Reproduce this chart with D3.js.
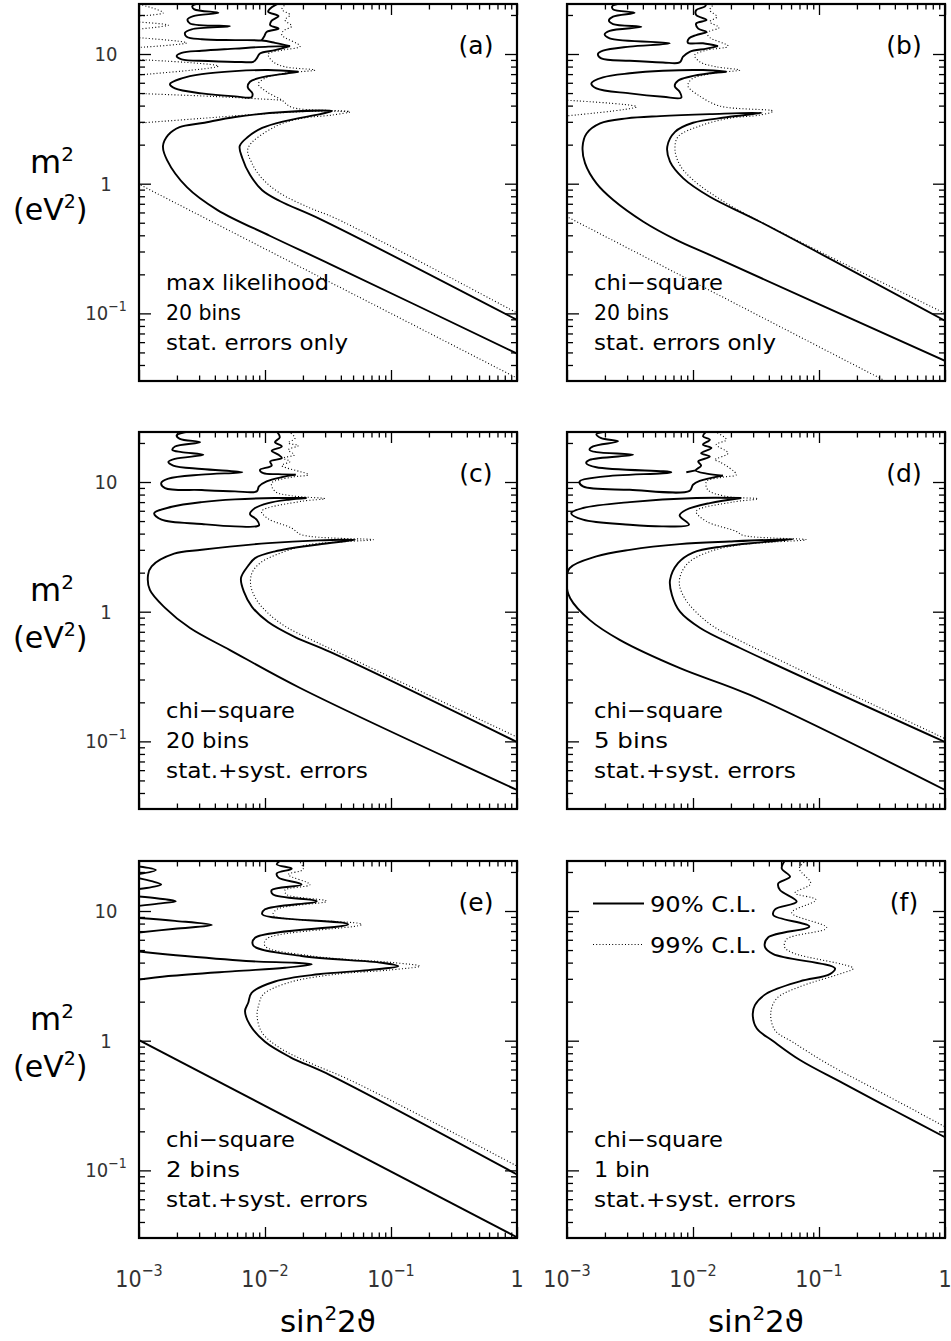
<!DOCTYPE html>
<html><head><meta charset="utf-8">
<script src="https://cdn.jsdelivr.net/npm/d3@7"></script>
<style>body{margin:0;background:#fff}svg{display:block}</style>
</head><body>
<svg id="chart" width="951" height="1341"></svg>
<script>
// ---------- axes ----------
const X_DOMAIN = [1e-3, 1];
const Y_DOMAIN = [0.0301, 24.3];
const xMajor = [1e-3, 1e-2, 1e-1, 1];
const xMinor = [0.002,0.003,0.004,0.005,0.006,0.007,0.008,0.009,0.02,0.03,0.04,0.05,0.06,0.07,0.08,0.09,0.2,0.3,0.4,0.5,0.6,0.7,0.8,0.9];
const yMajor = [0.1, 1, 10];
const yMinor = [0.04,0.05,0.06,0.07,0.08,0.09,0.2,0.3,0.4,0.5,0.6,0.7,0.8,0.9,2,3,4,5,6,7,8,9,20];
const xTickLabels = [["10","−3"],["10","−2"],["10","−1"],["1",""]];
const yTickLabels = [["10","−1"],["1",""],["10",""]];

// ---------- panel (a) ----------
const A_band = [[1,0.049],[0.0328,0.24],[0.011,0.395],[0.0042,0.626],[0.0024,0.94],[0.00167,1.52],[0.00155,1.95],[0.0017,2.37],[0.0021,2.73],[0.0032,2.94],[0.0058,3.27],[0.0144,3.57],[0.034,3.63],[0.0274,3.44],[0.0144,3.04],[0.0095,2.69],[0.0073,2.29],[0.0063,1.95],[0.0066,1.58],[0.0076,1.17],[0.0095,0.89],[0.0131,0.735],[0.0274,0.533],[1,0.089]];
const A_lobes = [[0.00296,24.6],[0.00265,23.4],[0.00275,22.1],[0.00427,20.8],[0.0027,19.6],[0.00243,18.5],[0.00254,17.2],[0.00527,16.4],[0.00262,15.5],[0.00232,14.6],[0.00239,13.6],[0.00315,13.0],[0.00578,12.8],[0.0094,12.7],[0.012,12.2],[0.0158,11.5]];
const A_wiggle = [[0.0094,12.7],[0.00987,13.7],[0.0103,14.8],[0.0128,15.7],[0.011,16.7],[0.0113,18.1],[0.0128,19.6],[0.0106,21.2],[0.0113,22.9],[0.0128,24.6]];
const A_isl1 = [[0.0158,11.5],[0.0106,11.4],[0.00578,11.0],[0.00315,10.6],[0.00218,10.2],[0.00199,9.64],[0.00218,9.08],[0.00355,8.83],[0.00653,8.67],[0.00807,8.71],[0.0086,9.25],[0.00912,10.1],[0.012,10.7],[0.0158,11.5]];
const A_isl2 = [[0.0184,7.3],[0.0106,7.52],[0.00578,7.38],[0.00315,7.0],[0.00218,6.49],[0.00176,5.86],[0.00193,5.43],[0.00315,4.97],[0.00578,4.71],[0.00783,4.65],[0.00795,4.97],[0.0073,5.52],[0.0076,6.11],[0.0094,6.6],[0.0136,7.0],[0.0184,7.3]];
const A_dLower = [[0.00098,1.0],[1,0.0317]];
const A_dRight = [[0.01486,24.6],[0.0136,22.1],[0.0158,20.0],[0.0144,18.3],[0.0163,16.4],[0.014,15.1],[0.0136,14.0],[0.019,11.5],[0.0136,10.7],[0.0106,10.0],[0.0116,8.71],[0.0144,7.97],[0.0249,7.52],[0.0144,7.1],[0.01,6.49],[0.00885,5.86],[0.0103,5.12],[0.0136,4.41],[0.0163,3.88],[0.0473,3.59],[0.0338,3.38],[0.0195,3.19],[0.012,2.75],[0.00733,1.88],[0.00788,1.44],[0.00947,1.10],[0.0131,0.847],[0.0228,0.649],[0.036,0.543],[1,0.1007]];
const A_dLobe1 = [[0.00095,24.6],[0.00156,20.8],[0.00095,19.6]];
const A_dLobe2 = [[0.00095,17.7],[0.00171,16.7],[0.00095,15.5]];
const A_dLobe3 = [[0.00095,13.4],[0.00239,12.2],[0.00095,11.2]];
const A_dLobe4 = [[0.00095,9.08],[0.00427,8.07],[0.00095,6.88]];
const A_dLobe5 = [[0.00095,4.97],[0.004,4.7],[0.0136,4.41]];
const A_dLobe6 = [[0.00095,2.92],[0.00315,3.19],[0.0106,3.48],[0.0282,3.63],[0.0473,3.59]];
const A_text = ["max likelihood","20 bins","stat. errors only"];

// ---------- panel (b) ----------
const B_band = [[1,0.043],[0.0136,0.282],[0.00743,0.367],[0.00404,0.509],[0.00233,0.748],[0.00172,1.0],[0.00139,1.44],[0.00133,1.93],[0.00143,2.44],[0.00183,2.92],[0.00298,3.19],[0.00547,3.32],[0.0136,3.44],[0.0351,3.52],[0.0185,3.25],[0.01,2.95],[0.0072,2.51],[0.00625,1.93],[0.00657,1.48],[0.00838,1.10],[0.0136,0.793],[0.034,0.509],[1,0.0877]];
const B_lobes = [[0.00275,24.6],[0.00229,23.4],[0.00232,22.1],[0.00344,20.8],[0.00232,19.4],[0.00215,18.1],[0.00232,17.0],[0.00389,16.2],[0.00218,15.1],[0.00199,14.2],[0.00218,13.2],[0.00653,12.1],[0.00315,11.4],[0.00193,10.6],[0.00176,10.0],[0.00187,9.25],[0.00315,8.87],[0.00578,8.61],[0.00783,8.61],[0.00834,9.53],[0.0094,10.4],[0.0128,11.0],[0.0158,11.5]];
const B_wiggle = [[0.0158,11.5],[0.012,12.1],[0.00912,12.2],[0.0093,13.2],[0.0106,14.0],[0.0128,14.8],[0.011,15.7],[0.0106,17.2],[0.0128,18.3],[0.0106,20.0],[0.0106,21.8],[0.0124,23.2],[0.0128,24.6]];
const B_isl = [[0.0184,7.3],[0.012,7.52],[0.00578,7.43],[0.00315,7.1],[0.00193,6.6],[0.00156,5.94],[0.00171,5.43],[0.00315,4.97],[0.00578,4.68],[0.00807,4.6],[0.00783,5.12],[0.00716,5.66],[0.0076,6.22],[0.0094,6.68],[0.0136,7.1],[0.0184,7.3]];
const B_dLower = [[0.00098,0.562],[0.35,0.0295]];
const B_dRight = [[0.01486,24.6],[0.0136,21.8],[0.0155,19.4],[0.0136,17.7],[0.0161,16.0],[0.0129,14.6],[0.0136,13.4],[0.019,11.5],[0.0128,10.7],[0.0103,9.8],[0.0113,8.71],[0.0153,7.97],[0.0235,7.52],[0.0144,7.1],[0.0097,6.37],[0.00912,5.66],[0.011,4.82],[0.0163,3.97],[0.0432,3.63],[0.0338,3.38],[0.0195,3.2],[0.0115,2.8],[0.0076,2.3],[0.0072,1.82],[0.00788,1.39],[0.01,1.07],[0.0185,0.705],[0.0462,0.439],[1,0.1]];
const B_dLobe = [[0.00095,4.41],[0.00357,3.92],[0.00095,3.32]];
const B_text = ["chi−square","20 bins","stat. errors only"];

// ---------- panel (c) ----------
const C_band = [[1,0.0422],[0.019,0.258],[0.00527,0.506],[0.00254,0.748],[0.00161,1.07],[0.00122,1.47],[0.00118,1.92],[0.00126,2.24],[0.0019,2.8],[0.00315,3.0],[0.0106,3.38],[0.0265,3.55],[0.0518,3.58],[0.0265,3.30],[0.012,2.92],[0.00834,2.59],[0.00733,2.25],[0.00645,1.82],[0.00681,1.42],[0.00788,1.09],[0.0106,0.832],[0.0173,0.637],[0.0328,0.49],[1,0.0989]];
const C_lobes = [[0.00254,24.6],[0.00199,22.9],[0.00211,21.5],[0.00305,20.3],[0.00193,18.8],[0.00184,17.7],[0.00218,17.0],[0.00324,16.2],[0.00193,15.1],[0.00171,14.3],[0.00187,13.4],[0.00315,12.6],[0.0066,11.9],[0.00315,11.4],[0.00171,10.6],[0.0015,9.8],[0.00161,8.98],[0.00315,8.67],[0.00578,8.47],[0.0086,8.47],[0.00896,9.25],[0.0103,10.1],[0.0136,10.9],[0.0175,11.4]];
const C_wiggle = [[0.0175,11.4],[0.0128,11.5],[0.0097,11.7],[0.00912,12.4],[0.0113,13.4],[0.011,14.4],[0.0136,15.3],[0.0128,16.2],[0.0113,17.4],[0.0136,18.8],[0.012,20.3],[0.0131,22.1],[0.0124,24.6]];
const C_isl = [[0.0214,7.52],[0.012,7.52],[0.00578,7.35],[0.00315,7.0],[0.00182,6.44],[0.00132,5.76],[0.00151,5.12],[0.00315,4.74],[0.00578,4.55],[0.00896,4.63],[0.0086,5.12],[0.0076,5.66],[0.00834,6.3],[0.0106,6.88],[0.0153,7.3],[0.0214,7.52]];
const C_dRight = [[0.0153,24.6],[0.0173,21.8],[0.0153,20.0],[0.0184,19.1],[0.0153,17.7],[0.0171,16.2],[0.014,15.3],[0.0158,14.4],[0.0136,13.4],[0.0221,11.4],[0.0163,10.9],[0.0113,9.8],[0.012,8.47],[0.0163,7.83],[0.0299,7.43],[0.0195,7.1],[0.0094,5.94],[0.0106,5.21],[0.0163,4.41],[0.0195,3.92],[0.0725,3.59],[0.0457,3.48],[0.0221,3.28],[0.0135,2.85],[0.0093,2.4],[0.0079,2.0],[0.0077,1.6],[0.0085,1.25],[0.0105,0.98],[0.0145,0.77],[0.024,0.6],[0.045,0.45],[1,0.108]];
const C_text = ["chi−square","20 bins","stat.+syst. errors"];

// ---------- panel (d) ----------
const D_band = [[1,0.0422],[0.0283,0.228],[0.00788,0.367],[0.00264,0.604],[0.00152,0.861],[0.00106,1.27],[0.00099,1.69],[0.00105,2.17],[0.00171,2.67],[0.00315,3.0],[0.00783,3.32],[0.0195,3.48],[0.0622,3.63],[0.036,3.44],[0.0173,3.19],[0.01,2.86],[0.0076,2.37],[0.00657,1.75],[0.00681,1.34],[0.00788,1.0],[0.0114,0.748],[0.0236,0.525],[1,0.0989]];
const D_lobes = [[0.00218,24.6],[0.00171,23.4],[0.00187,21.8],[0.00254,20.6],[0.00161,18.8],[0.00151,17.7],[0.00171,17.0],[0.00334,16.2],[0.00151,14.8],[0.00142,14.0],[0.00171,13.0],[0.00673,11.9],[0.00193,11.0],[0.00126,10.1],[0.00134,9.25],[0.00315,8.71],[0.0094,8.55],[0.01,9.53],[0.0113,10.2],[0.0173,11.2]];
const D_wiggle = [[0.0173,11.2],[0.0128,11.6],[0.0105,12.3],[0.0116,13.4],[0.011,14.4],[0.0136,15.7],[0.0116,16.7],[0.014,18.3],[0.012,19.4],[0.0136,21.2],[0.012,22.5],[0.0128,24.6]];
const D_stub = [[0.0105,12.3],[0.00885,11.9]];
const D_isl = [[0.0242,7.52],[0.0106,7.52],[0.00315,7.0],[0.00134,6.3],[0.00108,5.76],[0.00134,5.12],[0.00315,4.68],[0.00578,4.55],[0.0093,4.68],[0.00783,5.52],[0.00885,6.11],[0.0136,6.88],[0.0242,7.52]];
const D_dRight = [[0.01486,24.6],[0.0184,21.2],[0.0153,19.4],[0.019,16.7],[0.01486,14.8],[0.0163,14.3],[0.0221,11.4],[0.0173,10.9],[0.0128,10.1],[0.0131,8.71],[0.0184,7.74],[0.0328,7.43],[0.0207,7.0],[0.0106,5.94],[0.0128,4.97],[0.0221,4.16],[0.0249,3.88],[0.0793,3.59],[0.045,3.45],[0.022,3.25],[0.0135,2.9],[0.0095,2.45],[0.0081,2.0],[0.0078,1.62],[0.0086,1.27],[0.0105,1.0],[0.0145,0.77],[0.026,0.57],[1,0.105]];
const D_text = ["chi−square","5 bins","stat.+syst. errors"];

// ---------- panel (e) ----------
const E_lobe1 = [[0.00095,22.2],[0.00136,20.7],[0.00095,19.1]];
const E_lobe2 = [[0.00095,18.1],[0.00126,17.0],[0.0015,16.0],[0.00126,15.3],[0.00095,14.7]];
const E_lobe3 = [[0.00095,13.0],[0.00142,12.5],[0.00196,11.9],[0.00142,11.4],[0.00095,10.9]];
const E_lobe4 = [[0.00095,8.87],[0.00193,8.4],[0.00378,7.8],[0.00193,7.3],[0.00095,6.79]];
const E_lobe5 = [[0.00095,4.9],[0.00232,4.5],[0.00783,4.1],[0.0173,3.99],[0.0235,3.88],[0.0144,3.65],[0.00578,3.44],[0.00171,3.15],[0.00095,2.94]];
const E_right = [[0.0136,24.8],[0.0124,22.9],[0.0163,21.2],[0.0124,19.5],[0.0128,18.1],[0.0195,16.0],[0.0113,14.5],[0.0116,13.4],[0.0257,11.9],[0.01,10.3],[0.00952,9.42],[0.0457,7.89],[0.00834,6.22],[0.00807,5.43],[0.0195,4.5],[0.0844,3.99],[0.114,3.76],[0.066,3.5],[0.0265,3.25],[0.012,2.86],[0.00783,2.34],[0.00736,1.96],[0.00694,1.69],[0.0076,1.32],[0.01,0.98],[0.0158,0.748],[0.0328,0.543],[1,0.093]];
const E_lower = [[0.00098,1.02],[1,0.0305]];
const E_dRight = [[0.0184,24.8],[0.0201,21.0],[0.0153,19.1],[0.0228,16.0],[0.0144,14.5],[0.01486,13.4],[0.0309,11.9],[0.0124,10.3],[0.0116,9.25],[0.0585,7.89],[0.0103,6.11],[0.01,5.37],[0.0235,4.5],[0.1076,3.99],[0.17,3.76],[0.0953,3.5],[0.036,3.25],[0.0153,2.8],[0.0097,2.28],[0.00896,1.92],[0.00865,1.55],[0.0095,1.15],[0.0131,0.88],[0.0228,0.673],[0.0473,0.497],[1,0.108]];
const E_text = ["chi−square","2 bins","stat.+syst. errors"];

// ---------- panel (f) ----------
const F_solid = [[0.0537,24.6],[0.0506,21.3],[0.0589,18.4],[0.0475,16.3],[0.049,14.5],[0.0665,11.8],[0.0448,10.3],[0.0434,9.3],[0.0838,7.6],[0.0396,6.27],[0.0372,5.3],[0.0434,4.65],[0.134,3.61],[0.122,3.26],[0.0706,2.87],[0.0384,2.31],[0.031,1.88],[0.0298,1.58],[0.0321,1.24],[0.0434,0.99],[0.0706,0.71],[0.156,0.469],[0.389,0.292],[1,0.18]];
const F_dotted = [[0.0798,24.6],[0.0698,21.3],[0.0859,16.3],[0.0646,13.8],[0.0946,12.2],[0.0607,9.7],[0.115,7.43],[0.0554,6.07],[0.0534,5.25],[0.0625,4.74],[0.187,3.61],[0.156,3.34],[0.0706,2.61],[0.0462,2.12],[0.0414,1.63],[0.0448,1.2],[0.0625,0.97],[0.115,0.67],[0.287,0.416],[1,0.217]];
const F_text = ["chi−square","1 bin","stat.+syst. errors"];
const legendLabels = ["90% C.L.","99% C.L."];

const panelLabels = ["(a)","(b)","(c)","(d)","(e)","(f)"];

// ---------- layout ----------
const W = 378, H = 377;
const colX = [139, 567];
const rowY = [4, 432, 861];
const textWidths = [[163,75,182],[129,75,182],[129,83,202],[129,74,202],[129,74,202],[129,56,202]];

const panels = [
  {solid:[A_band,A_lobes,A_wiggle,A_isl1,A_isl2], dotted:[A_dLower,A_dRight,A_dLobe1,A_dLobe2,A_dLobe3,A_dLobe4,A_dLobe5,A_dLobe6], text:A_text},
  {solid:[B_band,B_lobes,B_wiggle,B_isl], dotted:[B_dLower,B_dRight,B_dLobe], text:B_text},
  {solid:[C_band,C_lobes,C_wiggle,C_isl], dotted:[C_dRight], text:C_text},
  {solid:[D_band,D_lobes,D_wiggle,D_stub,D_isl], dotted:[D_dRight], text:D_text},
  {solid:[E_lobe1,E_lobe2,E_lobe3,E_lobe4,E_lobe5,E_right,E_lower], dotted:[E_dRight], text:E_text},
  {solid:[F_solid], dotted:[F_dotted], text:F_text}
];

const svg = d3.select("#chart");
const defs = svg.append("defs");
const TICKFONT = "'Liberation Sans Narrow','DejaVu Sans Condensed','Liberation Sans',sans-serif";
const TEXTFONT = "'DejaVu Sans','Open Sans',sans-serif";

const x = d3.scaleLog().domain(X_DOMAIN).range([0, W]);
const y = d3.scaleLog().domain(Y_DOMAIN).range([H, 0]);
const line = d3.line().x(d => x(d[0])).y(d => y(d[1])).curve(d3.curveCatmullRom.alpha(0.5));

panels.forEach((p, i) => {
  const col = i % 2, row = Math.floor(i / 2);
  const g = svg.append("g").attr("transform", `translate(${colX[col]},${rowY[row]})`);
  defs.append("clipPath").attr("id", "clip" + i).append("rect").attr("x", 0).attr("y", 0).attr("width", W).attr("height", H);
  const cg = g.append("g").attr("clip-path", `url(#clip${i})`);
  p.dotted.forEach(arr => cg.append("path").attr("d", line(arr)).attr("fill", "none")
    .attr("stroke", "#000").attr("stroke-width", 1.1).attr("stroke-dasharray", "1 2.2"));
  p.solid.forEach(arr => cg.append("path").attr("d", line(arr)).attr("fill", "none")
    .attr("stroke", "#000").attr("stroke-width", 1.9).attr("stroke-linejoin", "round"));

  // ticks (inward on all four sides)
  [[xMajor, 11], [xMinor, 5.5]].forEach(([vals, len]) => {
    g.append("g").attr("transform", `translate(0,${H})`).call(d3.axisBottom(x).tickValues(vals).tickSize(-len).tickFormat("")).call(a => a.select(".domain").remove());
    g.append("g").call(d3.axisTop(x).tickValues(vals).tickSize(-len).tickFormat("")).call(a => a.select(".domain").remove());
  });
  [[yMajor, 12], [yMinor, 6]].forEach(([vals, len]) => {
    g.append("g").call(d3.axisLeft(y).tickValues(vals).tickSize(-len).tickFormat("")).call(a => a.select(".domain").remove());
    g.append("g").attr("transform", `translate(${W},0)`).call(d3.axisRight(y).tickValues(vals).tickSize(-len).tickFormat("")).call(a => a.select(".domain").remove());
  });
  g.selectAll(".tick line").attr("stroke", "#000").attr("stroke-width", 1.3);

  g.append("rect").attr("x", 0).attr("y", 0).attr("width", W).attr("height", H)
    .attr("fill", "none").attr("stroke", "#000").attr("stroke-width", 2.2);

  // panel letter
  g.append("text").attr("x", 337).attr("y", 50).attr("text-anchor", "middle")
    .attr("font-family", TEXTFONT).attr("font-size", 25).text(panelLabels[i]);

  // annotation
  p.text.forEach((t, k) => {
    g.append("text").attr("x", 27).attr("y", 286 + 30 * k).attr("font-family", TEXTFONT)
      .attr("font-size", 21).attr("textLength", textWidths[i][k]).attr("lengthAdjust", "spacingAndGlyphs").text(t);
  });

  // y tick labels and y title
  if (col === 0) {
    yMajor.forEach((v, k) => {
      const t = g.append("text").attr("x", -33).attr("y", y(v) + 7).attr("text-anchor", "middle")
        .attr("font-family", TICKFONT).attr("font-size", 20).attr("fill", "#333");
      t.append("tspan").text(yTickLabels[k][0]);
      if (yTickLabels[k][1]) t.append("tspan").attr("dy", -9).attr("font-size", 14).text(yTickLabels[k][1]);
    });
    const m = g.append("text").attr("x", -109).attr("y", 169).attr("font-family", TEXTFONT).attr("font-size", 32);
    m.append("tspan").text("m");
    m.append("tspan").attr("dy", -12).attr("font-size", 20).text("2");
    const ev = g.append("text").attr("x", -126).attr("y", 216).attr("font-family", TEXTFONT).attr("font-size", 30);
    ev.append("tspan").text("(eV");
    ev.append("tspan").attr("dy", -12).attr("font-size", 19).text("2");
    ev.append("tspan").attr("dy", 12).text(")");
  }
  // x tick labels and x title
  if (row === 2) {
    xMajor.forEach((v, k) => {
      const t = g.append("text").attr("x", x(v)).attr("y", H + 49).attr("text-anchor", "middle")
        .attr("font-family", TICKFONT).attr("font-size", 23).attr("fill", "#333");
      t.append("tspan").text(xTickLabels[k][0]);
      if (xTickLabels[k][1]) t.append("tspan").attr("dy", -11).attr("font-size", 16).text(xTickLabels[k][1]);
    });
    const s = g.append("text").attr("x", W / 2).attr("y", H + 94).attr("text-anchor", "middle")
      .attr("font-family", TEXTFONT).attr("font-size", 31);
    s.append("tspan").text("sin");
    s.append("tspan").attr("dy", -12).attr("font-size", 20).text("2");
    s.append("tspan").attr("dy", 12).text("2ϑ");
  }
  // legend in (f)
  if (i === 5) {
    const styles = [{sw: 1.9, dash: null}, {sw: 1.1, dash: "1 2.2"}];
    styles.forEach((st, k) => {
      const ly = 42.5 + 41 * k;
      const l = g.append("line").attr("x1", 26).attr("x2", 77).attr("y1", ly).attr("y2", ly)
        .attr("stroke", "#000").attr("stroke-width", st.sw);
      if (st.dash) l.attr("stroke-dasharray", st.dash);
      g.append("text").attr("x", 83).attr("y", ly + 8).attr("font-family", TEXTFONT).attr("font-size", 21)
        .attr("textLength", 107).attr("lengthAdjust", "spacingAndGlyphs").text(legendLabels[k]);
    });
  }
});
</script>
</body></html>
